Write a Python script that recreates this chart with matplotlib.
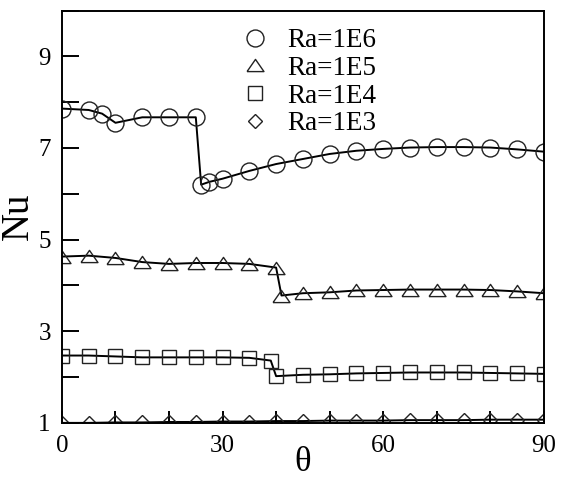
import matplotlib
matplotlib.use("Agg")
import matplotlib.pyplot as plt
from matplotlib.ticker import MultipleLocator

plt.rcParams['font.family'] = ['Liberation Serif', 'DejaVu Serif']

# Nu vs theta for four Rayleigh numbers
theta_1e6 = [0, 5, 7.5, 10, 15, 20, 25, 26, 27.5, 30, 35, 40, 45, 50, 55, 60, 65, 70, 75, 80, 85, 90]
nu_1e6 = [7.86, 7.83, 7.75, 7.55, 7.67, 7.67, 7.67, 6.20, 6.26, 6.33, 6.50, 6.65, 6.76, 6.87,
          6.94, 6.98, 7.01, 7.02, 7.02, 7.01, 6.97, 6.92]

theta_1e5 = [0, 5, 10, 15, 20, 25, 30, 35, 40, 41, 45, 50, 55, 60, 65, 70, 75, 80, 85, 90]
nu_1e5 = [4.63, 4.65, 4.60, 4.51, 4.47, 4.49, 4.49, 4.47, 4.39, 3.78, 3.83, 3.85, 3.89,
          3.90, 3.91, 3.91, 3.91, 3.90, 3.87, 3.83]

theta_1e4 = [0, 5, 10, 15, 20, 25, 30, 35, 39, 40, 45, 50, 55, 60, 65, 70, 75, 80, 85, 90]
nu_1e4 = [2.47, 2.47, 2.45, 2.43, 2.43, 2.43, 2.43, 2.42, 2.36, 2.02, 2.05, 2.06, 2.08,
          2.09, 2.10, 2.10, 2.10, 2.09, 2.08, 2.07]

theta_1e3 = [0, 5, 10, 15, 20, 25, 30, 35, 40, 45, 50, 55, 60, 65, 70, 75, 80, 85, 90]
nu_1e3 = [1.00, 1.00, 1.01, 1.01, 1.02, 1.02, 1.03, 1.03, 1.04, 1.04, 1.05, 1.05, 1.05,
          1.06, 1.06, 1.06, 1.07, 1.07, 1.07]

labels = ['Ra=1E6', 'Ra=1E5', 'Ra=1E4', 'Ra=1E3']

tri = [(-1, -0.72), (1, -0.72), (0, 0.72), (-1, -0.72)]

fig = plt.figure(figsize=(5.63, 4.8), dpi=100)
ax = fig.add_axes([0.110, 0.119, 0.856, 0.859])

common = dict(color='black', lw=1.4, mfc='none', mec='#222222', mew=1.0)
ax.plot(theta_1e6, nu_1e6, marker='o', ms=12.2, label=labels[0], **common)
ax.plot(theta_1e5, nu_1e5, marker=tri, ms=12.2, label=labels[1], **common)
ax.plot(theta_1e4, nu_1e4, marker='s', ms=9.4, label=labels[2], **common)
ax.plot(theta_1e3, nu_1e3, marker='D', ms=6.7, label=labels[3], **common)

ax.set_xlim(0, 90)
ax.set_ylim(1, 10)
ax.xaxis.set_major_locator(MultipleLocator(30))
ax.xaxis.set_minor_locator(MultipleLocator(10))
ax.yaxis.set_minor_locator(MultipleLocator(1))
ax.set_yticks([1, 3, 5, 7, 9])

ax.tick_params(axis='both', which='both', direction='in', width=1.4, labelsize=18,
               top=False, right=False)
ax.tick_params(axis='x', which='both', length=9, pad=9)
ax.tick_params(axis='y', which='both', length=12, pad=8)
for sp in ax.spines.values():
    sp.set_linewidth(1.4)

ax.set_ylabel('Nu', fontsize=28, labelpad=1)
# theta label sits at the very bottom edge
fig.text(0.538, 0.002, 'θ', ha='center', va='bottom', fontsize=25)

leg = ax.legend(frameon=False, fontsize=19.5, loc='upper left',
                bbox_to_anchor=(0.338, 0.99), borderpad=0, labelspacing=0.1,
                handlelength=1.2, handletextpad=0.6)
for h in leg.get_lines():
    h.set_linestyle('none')

fig.savefig('out.png', dpi=100)
